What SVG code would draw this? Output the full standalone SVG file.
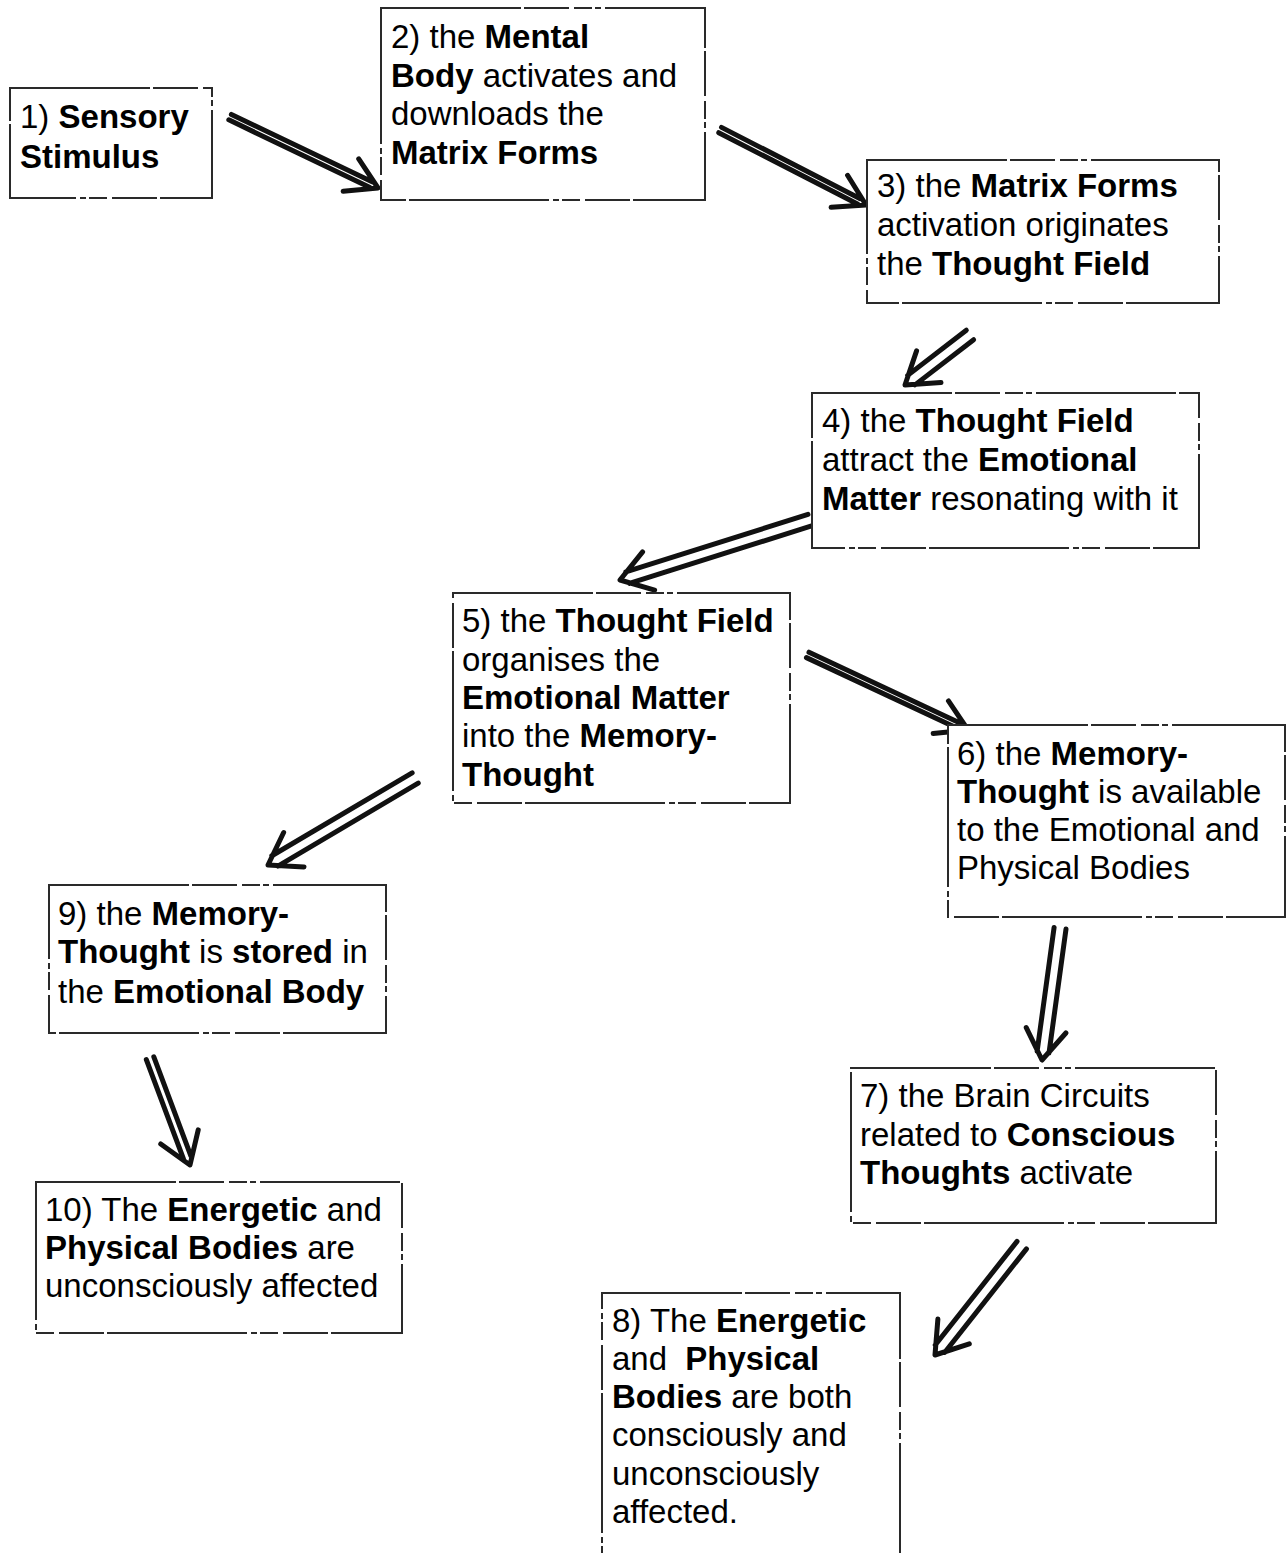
<svg xmlns="http://www.w3.org/2000/svg" width="1287" height="1553" viewBox="0 0 1287 1553">
<style>
.box{fill:#fff;stroke:#2a2a2a;stroke-width:2;stroke-dasharray:140 3 45 5 18 3 6 4}
text{font-family:"Liberation Sans",Arial,sans-serif;font-size:33px;fill:#000}
.b{font-weight:bold}
.arr{fill:none;stroke:#111;stroke-width:5;stroke-linecap:round;stroke-linejoin:round}
</style>
<rect width="1287" height="1553" fill="#fff"/>
<g id="connectors" class="arr">
<g transform="translate(378,188) rotate(25.6)"><path d="M-164,-3 L-8,-3 M-164,3 L-8,3 M-30,-18 L0,0 L-30,18"/></g>
<g transform="translate(866,205) rotate(27.2)"><path d="M-164,-3 L-8,-3 M-164,3 L-8,3 M-30,-18 L0,0 L-30,18"/></g>
<g transform="translate(905,385) rotate(142.4)"><path d="M-82,-6 L-8,-6 M-82,6 L-8,6 M-30,-20 L0,0 L-30,20"/></g>
<g transform="translate(620,580) rotate(162.5)"><path d="M-199,-6 L-8,-6 M-199,6 L-8,6 M-30,-20 L0,0 L-30,20"/></g>
<g transform="translate(968,730) rotate(25.1)"><path d="M-177,-3 L-8,-3 M-177,3 L-8,3 M-30,-18 L0,0 L-30,18"/></g>
<g transform="translate(268,865) rotate(149.4)"><path d="M-171,-6 L-8,-6 M-171,6 L-8,6 M-30,-20 L0,0 L-30,20"/></g>
<g transform="translate(1042,1060) rotate(97.8)"><path d="M-133,-6 L-8,-6 M-133,6 L-8,6 M-30,-20 L0,0 L-30,20"/></g>
<g transform="translate(190,1165) rotate(69.5)"><path d="M-114,-4 L-8,-4 M-114,4 L-8,4 M-30,-20 L0,0 L-30,20"/></g>
<g transform="translate(935,1355) rotate(128.3)"><path d="M-140,-6 L-8,-6 M-140,6 L-8,6 M-30,-20 L0,0 L-30,20"/></g>
</g>
<g id="n1"><rect class="box" x="10" y="88" width="202" height="110"/>
<text x="20" y="128">1) <tspan class="b">Sensory</tspan></text>
<text x="20" y="168" class="b">Stimulus</text></g>
<g id="n2"><rect class="box" x="381" y="8" width="324" height="192"/>
<text x="391" y="48">2) the <tspan class="b">Mental</tspan></text>
<text x="391" y="87"><tspan class="b">Body</tspan> activates and</text>
<text x="391" y="125">downloads the</text>
<text x="391" y="164" class="b">Matrix Forms</text></g>
<g id="n3"><rect class="box" x="867" y="160" width="352" height="143"/>
<text x="877" y="197">3) the <tspan class="b">Matrix Forms</tspan></text>
<text x="877" y="236">activation originates</text>
<text x="877" y="275">the <tspan class="b">Thought Field</tspan></text></g>
<g id="n4"><rect class="box" x="812" y="393" width="387" height="155"/>
<text x="822" y="432">4) the <tspan class="b">Thought Field</tspan></text>
<text x="822" y="471">attract the <tspan class="b">Emotional</tspan></text>
<text x="822" y="510"><tspan class="b">Matter</tspan> resonating with it</text></g>
<g id="n5"><rect class="box" x="453" y="593" width="337" height="210"/>
<text x="462" y="632">5) the <tspan class="b">Thought Field</tspan></text>
<text x="462" y="671">organises the</text>
<text x="462" y="709" class="b">Emotional Matter</text>
<text x="462" y="747">into the <tspan class="b">Memory-</tspan></text>
<text x="462" y="786" class="b">Thought</text></g>
<g id="n6"><rect class="box" x="948" y="725" width="337" height="192"/>
<text x="957" y="765">6) the <tspan class="b">Memory-</tspan></text>
<text x="957" y="803"><tspan class="b">Thought</tspan> is available</text>
<text x="957" y="841">to the Emotional and</text>
<text x="957" y="879">Physical Bodies</text></g>
<g id="n7"><rect class="box" x="851" y="1068" width="365" height="155"/>
<text x="860" y="1107">7) the Brain Circuits</text>
<text x="860" y="1146">related to <tspan class="b">Conscious</tspan></text>
<text x="860" y="1184"><tspan class="b">Thoughts</tspan> activate</text></g>
<g id="n8"><rect class="box" x="602" y="1293" width="298" height="270"/>
<text x="612" y="1332">8) The <tspan class="b">Energetic</tspan></text>
<text x="612" y="1370">and <tspan class="b" dx="9">Physical</tspan></text>
<text x="612" y="1408"><tspan class="b">Bodies</tspan> are both</text>
<text x="612" y="1446">consciously and</text>
<text x="612" y="1485">unconsciously</text>
<text x="612" y="1523">affected.</text></g>
<g id="n9"><rect class="box" x="49" y="885" width="337" height="148"/>
<text x="58" y="925">9) the <tspan class="b">Memory-</tspan></text>
<text x="58" y="963"><tspan class="b">Thought</tspan> is <tspan class="b">stored</tspan> in</text>
<text x="58" y="1003">the <tspan class="b">Emotional Body</tspan></text></g>
<g id="n10"><rect class="box" x="36" y="1182" width="366" height="151"/>
<text x="45" y="1221">10) The <tspan class="b">Energetic</tspan> and</text>
<text x="45" y="1259"><tspan class="b">Physical Bodies</tspan> are</text>
<text x="45" y="1297">unconsciously affected</text></g>
</svg>
